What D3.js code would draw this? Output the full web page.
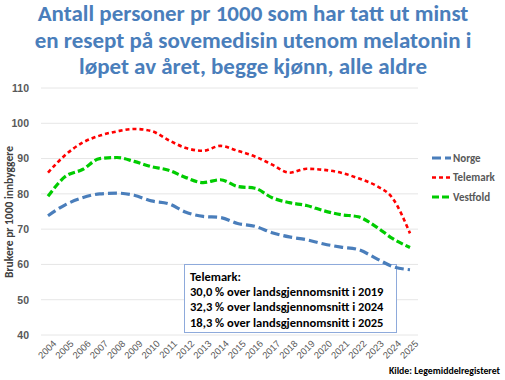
<!DOCTYPE html>
<html>
<head>
<meta charset="utf-8">
<script src="https://cdn.jsdelivr.net/npm/d3@7"></script>
<style>
  body { margin: 0; background: #fff; }
  svg { font-family: Carlito, "Open Sans", "Liberation Sans", sans-serif; }
</style>
</head>
<body>
<div id="chart"></div>
<script>
var width  = 505;
var height = 380;

var years = [2004, 2005, 2006, 2007, 2008, 2009, 2010, 2011, 2012, 2013, 2014,
             2015, 2016, 2017, 2018, 2019, 2020, 2021, 2022, 2023, 2024, 2025];

var norge    = [73.8, 76.9, 78.9, 80.0, 80.2, 79.6, 78.0, 77.2, 74.8, 73.6, 73.3,
                71.6, 70.8, 69.0, 67.8, 67.0, 65.8, 64.9, 64.2, 61.8, 59.4, 58.5];
var telemark = [86.0, 91.0, 94.5, 96.5, 97.7, 98.4, 97.8, 95.2, 93.0, 92.2, 93.6,
                92.2, 90.6, 88.3, 86.0, 87.1, 86.8, 86.0, 84.4, 82.4, 78.7, 68.8];
var vestfold = [79.3, 84.9, 86.9, 90.0, 90.3, 89.2, 87.7, 86.7, 84.6, 83.2, 84.0,
                82.1, 81.6, 78.9, 77.5, 76.7, 75.2, 74.1, 73.5, 70.8, 67.3, 64.8];

var yTicks = [40, 50, 60, 70, 80, 90, 100, 110];

var titleLines = ["Antall personer pr 1000 som har tatt ut minst",
                  "en resept på sovemedisin utenom melatonin i",
                  "løpet av året, begge kjønn, alle aldre"];

var noteLines = ["Telemark:",
                 "30,0 % over landsgjennomsnitt i 2019",
                 "32,3 % over landsgjennomsnitt i 2024",
                 "18,3 % over landsgjennomsnitt i 2025"];

var series = [
  { name: "Norge",    values: norge,    color: "#4a7ebb", dash: "9,4", w: 3.2 },
  { name: "Telemark", values: telemark, color: "#ff0000", dash: "4,3", w: 2.6 },
  { name: "Vestfold", values: vestfold, color: "#00cc00", dash: "7,3", w: 3.2 }
];

var svg = d3.select('#chart')
  .append('svg')
  .attr('width', width)
  .attr('height', height);

// title
svg.append('g').selectAll('text')
  .data(titleLines)
  .enter()
  .append('text')
  .attr('x', 253)
  .attr('y', function(d, i) { return 21 + i * 26.5; })
  .attr('text-anchor', 'middle')
  .style('font-size', '23px')
  .style('font-weight', 'bold')
  .style('fill', '#4a7ebb')
  .text(function(d) { return d; });

var x = d3.scalePoint()
  .domain(years)
  .range([48, 410]);

var y = d3.scaleLinear()
  .domain([40, 110])
  .range([335, 88]);

// grid
svg.append('g').selectAll('line')
  .data(yTicks)
  .enter()
  .append('line')
  .attr('x1', 41)
  .attr('x2', 418)
  .attr('y1', function(d) { return y(d); })
  .attr('y2', function(d) { return y(d); })
  .style('stroke', '#e6e6e6')
  .style('stroke-width', 1);

// y axis labels
var yAxis = d3.axisLeft(y).tickValues(yTicks).tickSize(0).tickPadding(6);
var gy = svg.append('g')
  .attr('transform', 'translate(35,0)')
  .call(yAxis);
gy.select('.domain').remove();
gy.selectAll('text')
  .style('font-size', '10.5px')
  .style('font-weight', 'bold')
  .style('fill', '#595959')
  .style('font-family', 'inherit');

// x axis labels
var xAxis = d3.axisBottom(x).tickSize(0).tickPadding(0);
var gx = svg.append('g')
  .attr('transform', 'translate(0,340)')
  .call(xAxis);
gx.select('.domain').remove();
gx.selectAll('text')
  .attr('transform', 'rotate(-45)')
  .attr('text-anchor', 'end')
  .attr('dx', '3')
  .attr('dy', '9')
  .style('font-size', '9.5px')
  .style('fill', '#595959')
  .style('font-family', 'inherit');

// y axis title
svg.append('text')
  .attr('transform', 'translate(13,212)rotate(-90)')
  .attr('text-anchor', 'middle')
  .style('font-size', '11.5px')
  .style('font-weight', 'bold')
  .style('fill', '#404040')
  .text('Brukere pr 1000 innbyggere');

// note box
var box = svg.append('g');
box.append('rect')
  .attr('x', 184.5)
  .attr('y', 264.5)
  .attr('width', 212)
  .attr('height', 68)
  .style('fill', '#fff')
  .style('stroke', '#8eaadb')
  .style('stroke-width', 1);
box.selectAll('text')
  .data(noteLines)
  .enter()
  .append('text')
  .attr('x', 190)
  .attr('y', function(d, i) { return 281 + i * 15.2; })
  .style('font-size', '12.5px')
  .style('font-weight', 'bold')
  .style('fill', '#000')
  .text(function(d) { return d; });

// lines
var line = d3.line()
  .x(function(d, i) { return x(years[i]); })
  .y(function(d) { return y(d); })
  .curve(d3.curveMonotoneX);

svg.append('g').selectAll('path')
  .data(series)
  .enter()
  .append('path')
  .attr('d', function(d) { return line(d.values); })
  .style('fill', 'none')
  .style('stroke', function(d) { return d.color; })
  .style('stroke-width', function(d) { return d.w; })
  .style('stroke-dasharray', function(d) { return d.dash; });

// legend
var legend = svg.append('g').selectAll('g')
  .data(series)
  .enter()
  .append('g')
  .attr('transform', function(d, i) { return 'translate(432,' + (158 + i * 19.5) + ')'; });
legend.append('line')
  .attr('x1', 0)
  .attr('x2', 19)
  .style('stroke', function(d) { return d.color; })
  .style('stroke-width', function(d) { return d.w; })
  .style('stroke-dasharray', function(d) { return d.dash; });
legend.append('text')
  .attr('x', 21)
  .attr('dy', '0.35em')
  .style('font-size', '11px')
  .style('font-weight', 'bold')
  .style('fill', '#595959')
  .text(function(d) { return d.name; });

// source
svg.append('text')
  .attr('x', 500)
  .attr('y', 374)
  .attr('text-anchor', 'end')
  .style('font-size', '9.8px')
  .style('font-weight', 'bold')
  .style('fill', '#000')
  .text('Kilde: Legemiddelregisteret');
</script>
</body>
</html>
